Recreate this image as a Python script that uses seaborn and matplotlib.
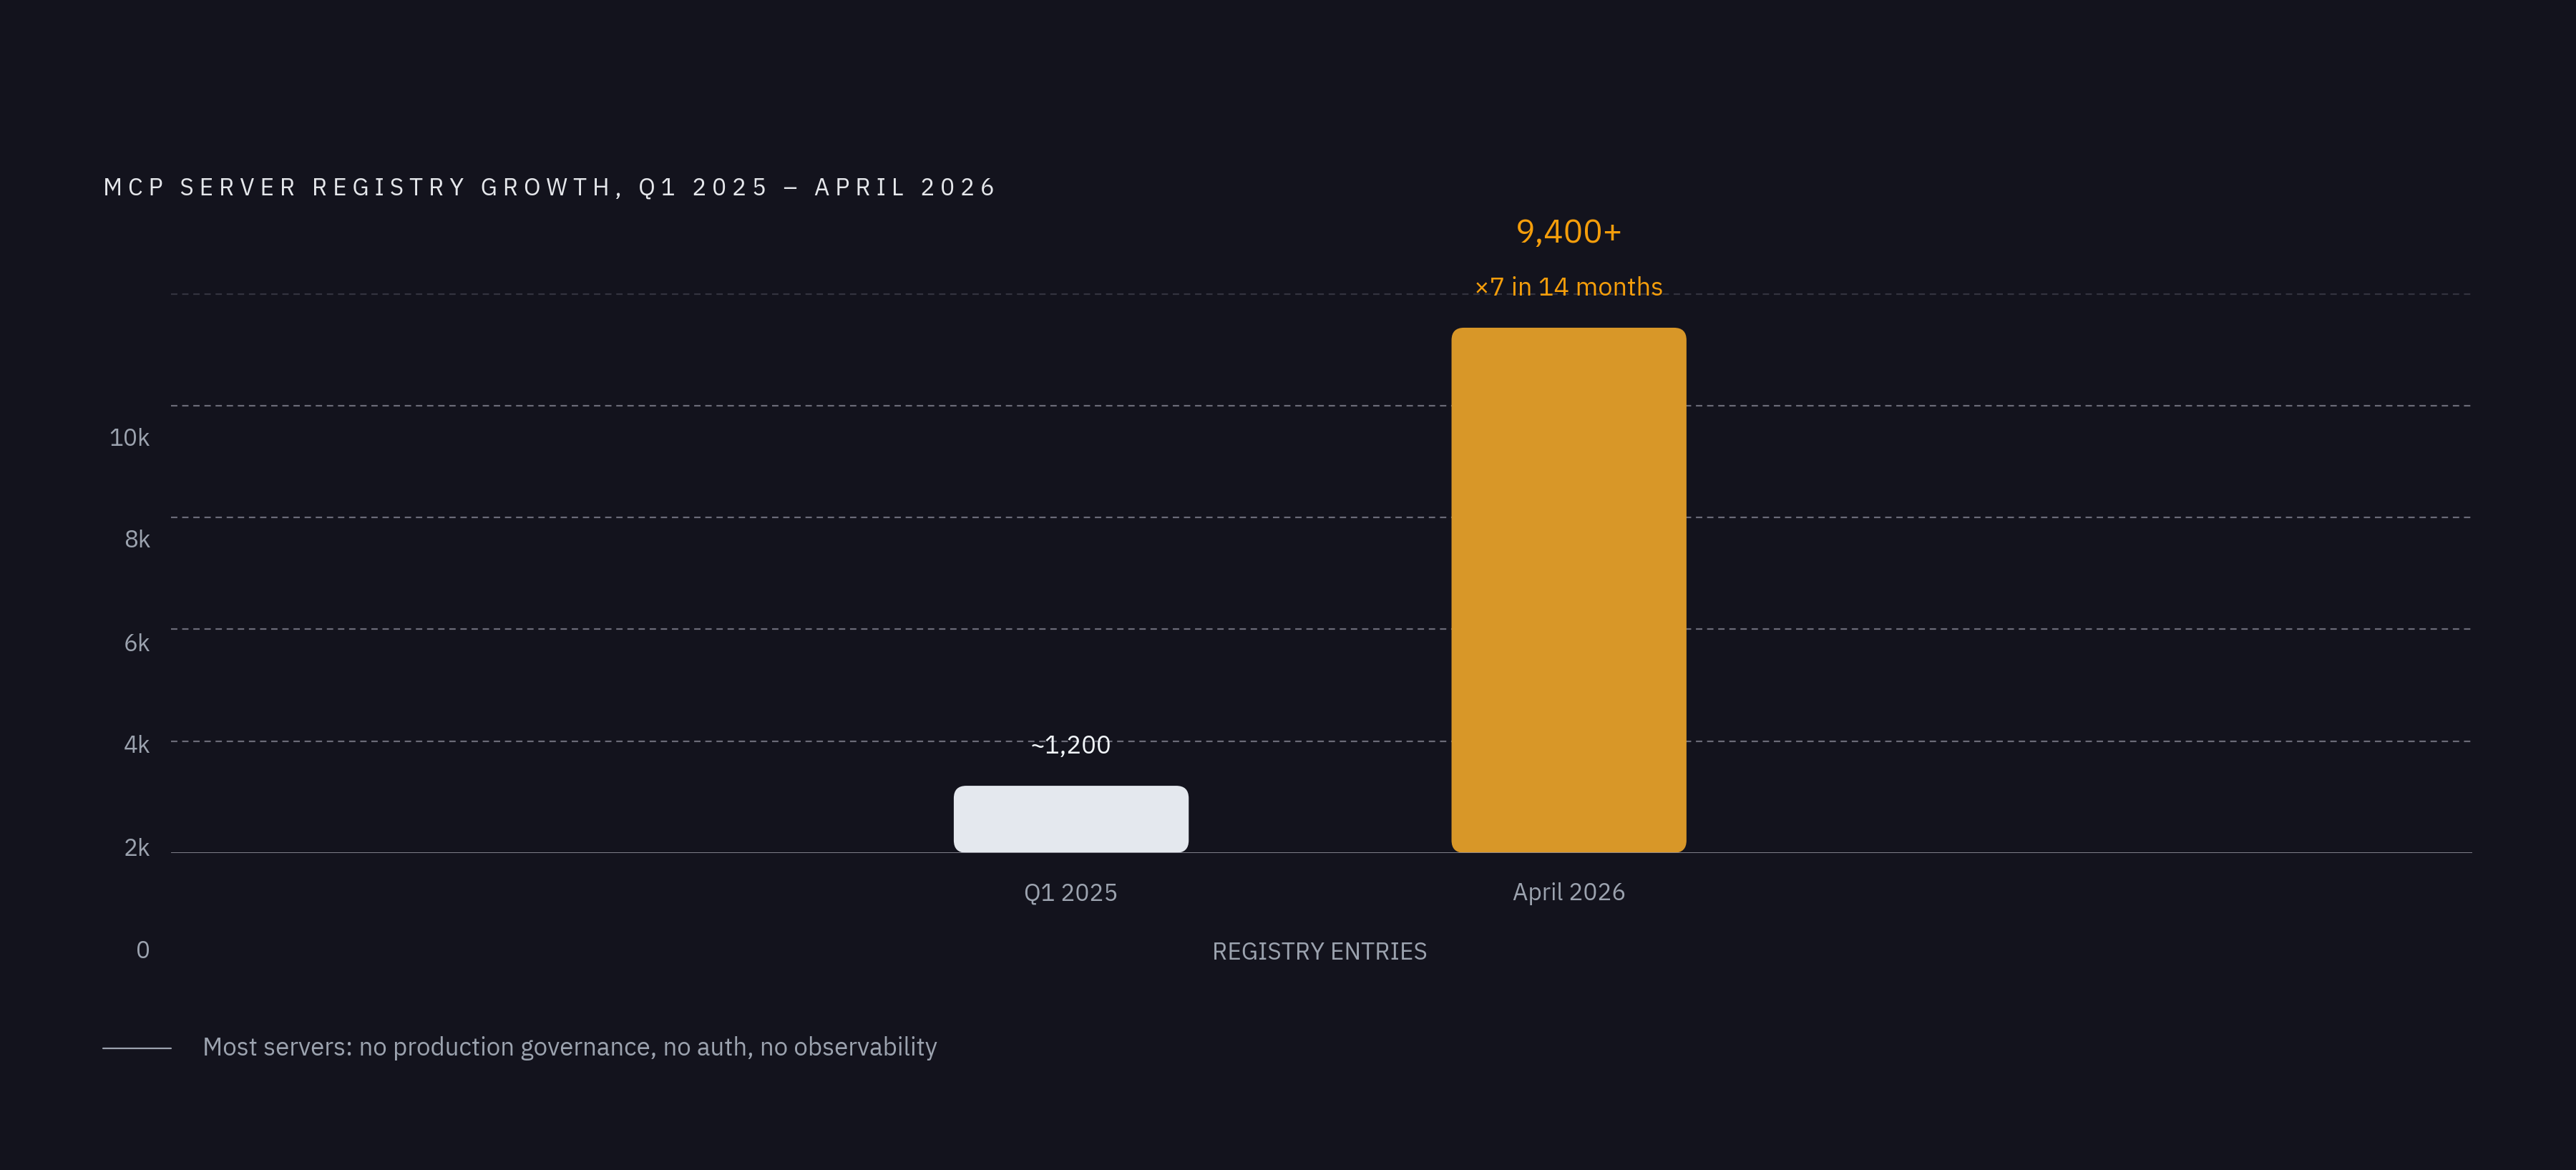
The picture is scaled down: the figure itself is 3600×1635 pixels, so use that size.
import matplotlib.pyplot as plt
import seaborn as sns
import pandas as pd
from matplotlib.patches import FancyBboxPatch

periods = ["Q1 2025", "April 2026"]
entries = [1200, 9400]
value_labels = ["~1,200", "9,400+"]
bar_colors = ["#e2e8f0", "#f59e0b"]
grid_values = [2000, 4000, 6000, 8000]
faint_grid = 10000
# tick labels as they appear, drawn slightly below their gridlines
tick_texts = ["10k", "8k", "6k", "4k", "2k", "0"]
tick_label_pos = [7400, 5580, 3730, 1910, 60, -1770]

BG = "#13131d"
GREY = "#9ca3af"

sns.set_theme(style="white")
plt.rcParams["font.family"] = ["IBM Plex Sans", "Inter", "DejaVu Sans"]

fig = plt.figure(figsize=(36, 16.35), dpi=100, facecolor=BG)
ax = fig.add_axes([0.0663, 0.2711, 0.8935, 0.5252])
ax.set_facecolor(BG)

df = pd.DataFrame({"period": periods, "entries": entries})
sns.barplot(data=df, x="period", y="entries", hue="period", palette=bar_colors,
            legend=False, width=0.472, ax=ax, zorder=3)

ax.set_xlim(-1.809, 2.815)
ax.set_ylim(0, 11000)

# replace bars with rounded ones
for p in list(ax.patches):
    fc = p.get_facecolor()
    x, y, w, h = p.get_x(), p.get_y(), p.get_width(), p.get_height()
    p.remove()
    ax.add_patch(FancyBboxPatch((x, y), w, h,
                                boxstyle="round,pad=0,rounding_size=0.025",
                                mutation_aspect=8900, fc=fc, ec="none", zorder=3))

for v in grid_values:
    ax.axhline(v, color="#6b6b78", lw=1.6, ls=(0, (4, 3)), zorder=1)
ax.axhline(faint_grid, color="#33333f", lw=1.6, ls=(0, (4, 3)), zorder=1)
ax.axhline(0, color="#8a8a96", lw=2, zorder=4)

for s in ax.spines.values():
    s.set_visible(False)
ax.set_yticks([])
ax.set_xlabel("")
ax.set_ylabel("")
ax.tick_params(axis="x", length=0, pad=30, labelsize=24, labelcolor=GREY)

for t, pos in zip(tick_texts, tick_label_pos):
    ax.text(-1.85, pos, t, ha="right", va="center", fontsize=24, color=GREY, clip_on=False)

# value labels
ax.text(0, entries[0] + 700, value_labels[0], ha="center", va="center",
        fontsize=25, fontweight="bold", color="#f1f5f9")
ax.text(1, entries[1] + 1680, value_labels[1], ha="center", va="center",
        fontsize=33, fontweight="bold", color=bar_colors[1], clip_on=False)
ax.text(1, entries[1] + 700, "×7 in 14 months", ha="center", va="center",
        fontsize=26, fontweight="bold", color=bar_colors[1])

ax.text(0.5, -1800, "REGISTRY ENTRIES", transform=ax.get_xaxis_transform() if False else ax.transData,
        ha="center", va="center", fontsize=24, color=GREY, clip_on=False)

fig.text(0.040, 0.839, "M C P   S E R V E R   R E G I S T R Y   G R O W T H ,   Q 1   2 0 2 5   –   A P R I L   2 0 2 6",
         fontsize=24, color="#e5e7eb", va="center", ha="left")

fig.lines.append(plt.Line2D([0.040, 0.0663], [0.104, 0.104], transform=fig.transFigure,
                            color=GREY, lw=1.6))
fig.text(0.0785, 0.104, "Most servers: no production governance, no auth, no observability",
         fontsize=25, color=GREY, va="center", ha="left")

fig.savefig("out.png", facecolor=BG)
